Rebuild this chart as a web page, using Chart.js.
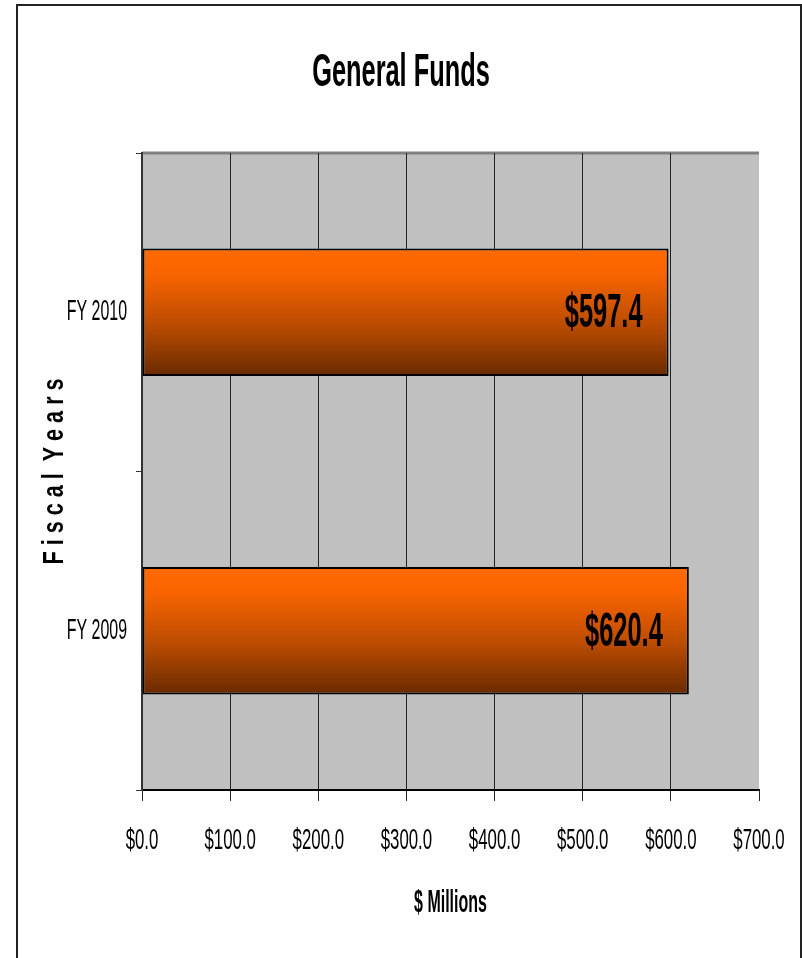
<!DOCTYPE html>
<html>
<head>
<meta charset="utf-8">
<script src="https://cdn.jsdelivr.net/npm/chart.js@4.4.1/dist/chart.umd.min.js"></script>
<style>
  html, body { margin: 0; padding: 0; background: #fff; overflow: hidden; }
  #wrap { position: relative; width: 802px; height: 958px; }
  #frame { position: absolute; left: 16px; top: 4px; width: 782px; height: 970px;
           border: 2px solid #222; border-bottom: none; pointer-events: none; }
  canvas { position: absolute; left: 0; top: 0; }
</style>
</head>
<body>
<div id="wrap">
  <canvas id="fundsChart" width="802" height="958"></canvas>
  <div id="frame"></div>
</div>
<script>
// data
const chartTitle = 'General Funds';
const categories = ['FY 2009', 'FY 2010'];
const funds = [620.4, 597.4];
const xTickValues = [0, 100, 200, 300, 400, 500, 600, 700];
const xAxisTitle = '$ Millions';
const yAxisTitle = 'F i s c a l  Y e a r s';

const FONT = '"Liberation Sans", Arial, sans-serif';

function money(v) {
    return '$' + v.toFixed(1);
}

// the source uses a very condensed face, so text is squeezed horizontally
function drawText(ctx, text, x, y, size, bold, squeeze, align, angle) {
    ctx.save();
    ctx.translate(x, y);
    if (angle) ctx.rotate(angle);
    ctx.scale(squeeze, 1);
    ctx.font = (bold ? 'bold ' : '') + size + 'px ' + FONT;
    ctx.textAlign = align;
    ctx.textBaseline = 'alphabetic';
    ctx.fillStyle = '#000';
    ctx.fillText(text, 0, 0);
    ctx.restore();
}

function barGradient(context) {
    const chart = context.chart;
    const area = chart.chartArea;
    if (!area) return '#ff6600';
    const y = chart.scales.y;
    const half = (y.height / categories.length) * 0.4 / 2;
    const cy = y.getPixelForValue(context.dataIndex);
    const g = chart.ctx.createLinearGradient(0, cy - half, 0, cy + half);
    g.addColorStop(0, '#ff6a00');
    g.addColorStop(0.2, '#f86400');
    g.addColorStop(0.6, '#bb4c00');
    g.addColorStop(1, '#692a00');
    return g;
}

const plotBackground = {
    id: 'plotBackground',
    beforeDraw(chart) {
        const {ctx, chartArea: a} = chart;
        ctx.save();
        ctx.fillStyle = '#c0c0c0';
        ctx.fillRect(a.left, a.top, a.right - a.left, a.bottom - a.top);
        ctx.strokeStyle = '#808080';
        ctx.lineWidth = 3;
        ctx.beginPath();
        ctx.moveTo(a.left, a.top);
        ctx.lineTo(a.right, a.top);
        ctx.stroke();
        ctx.restore();
    }
};

const textLayer = {
    id: 'textLayer',
    afterDraw(chart) {
        const {ctx, chartArea: a, scales} = chart;

        drawText(ctx, chartTitle, chart.width / 2, 86, 47, true, 0.54, 'center');

        scales.x.ticks.forEach(t => {
            drawText(ctx, money(t.value), scales.x.getPixelForValue(t.value), a.bottom + 59, 29, false, 0.58, 'center');
        });
        categories.forEach((c, i) => {
            drawText(ctx, c, a.left - 15, scales.y.getPixelForValue(i) + 8, 29, false, 0.55, 'right');
        });

        drawText(ctx, xAxisTitle, (a.left + a.right) / 2, a.bottom + 122, 32, true, 0.5, 'center');
        drawText(ctx, yAxisTitle, 63, (a.top + a.bottom) / 2, 30, true, 0.72, 'center', -Math.PI / 2);

        // value labels just inside the end of each bar
        chart.getDatasetMeta(0).data.forEach((bar, i) => {
            drawText(ctx, money(funds[i]), bar.x - 26, bar.y + 15, 48, true, 0.53, 'right');
        });
    }
};

const ctx = document.getElementById('fundsChart').getContext('2d');

const fundsChart = new Chart(ctx, {
    type: 'bar',
    data: {
        labels: categories,
        datasets: [{
            label: 'General Funds',
            data: funds,
            backgroundColor: barGradient,
            borderColor: '#000',
            borderWidth: 2,
            borderSkipped: false,
            barPercentage: 0.4,
            categoryPercentage: 1.0
        }]
    },
    options: {
        indexAxis: 'y',
        responsive: false,
        animation: false,
        layout: { padding: { top: 153, right: 43, bottom: 0, left: 0 } },
        plugins: {
            legend: { display: false },
            title: { display: false },
            tooltip: { enabled: false }
        },
        scales: {
            x: {
                min: xTickValues[0],
                max: xTickValues[xTickValues.length - 1],
                ticks: { stepSize: 100, display: false },
                grid: {
                    color: c => (c.tick && c.tick.value === 700 ? 'rgba(0,0,0,0)' : '#222'),
                    tickColor: '#222',
                    lineWidth: 1,
                    tickLength: 11
                },
                border: { color: '#000', width: 2 },
                afterFit: s => { s.height = 168; }
            },
            y: {
                reverse: true,
                ticks: { display: false },
                grid: { offset: true, drawOnChartArea: false, tickLength: 6, color: '#333' },
                border: { color: '#333', width: 2 },
                afterFit: s => { s.width = 142; }
            }
        }
    },
    plugins: [plotBackground, textLayer]
});
</script>
</body>
</html>
